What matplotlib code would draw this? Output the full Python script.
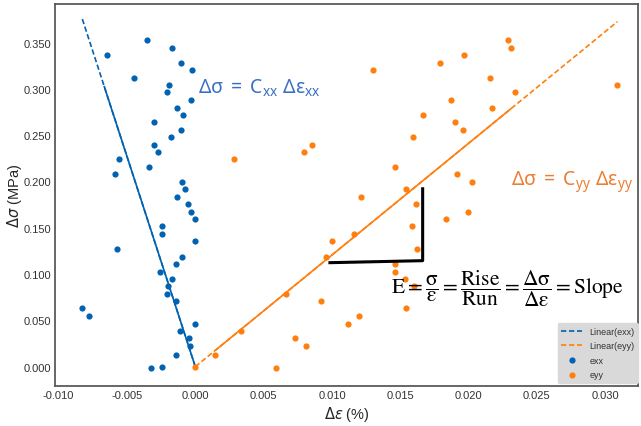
import numpy as np
import matplotlib.pyplot as plt

plt.rcParams['font.family'] = ['Liberation Sans', 'DejaVu Sans']
plt.rcParams['axes.unicode_minus'] = False
plt.rcParams['mathtext.fontset'] = 'dejavusans'
plt.rcParams['mathtext.rm'] = 'Noto Sans'
plt.rcParams['mathtext.it'] = 'Noto Sans:italic'

# stress increments shared by both strain directions (MPa)
stress = [0.3525, 0.3446, 0.3363, 0.3281, 0.3205, 0.3122, 0.3046, 0.2963, 0.2881,
          0.2798, 0.2719, 0.2639, 0.2560, 0.2481, 0.2398, 0.2315, 0.2239, 0.2160,
          0.2077, 0.1995, 0.1914, 0.1836, 0.1755, 0.1674, 0.1599, 0.1516, 0.1435,
          0.1354, 0.1273, 0.1188, 0.1107, 0.1028, 0.0948, 0.0867, 0.0786, 0.0710,
          0.0629, 0.0548, 0.0465, 0.0386, 0.0310, 0.0227, 0.0127, 0.0000, -0.0017]

exx = [-0.00351, -0.00168, -0.00649, -0.00105, -0.00026, -0.00449, -0.00190, -0.00209,
       -0.00034, -0.00132, -0.00092, -0.00300, -0.00102, -0.00176, -0.00300, -0.00271,
       -0.00556, -0.00341, -0.00590, -0.00100, -0.00075, -0.00134, -0.00056, -0.00034,
       0.00000, -0.00244, -0.00244, 0.00000, -0.00571, -0.00097, -0.00139, -0.00256,
       -0.00168, -0.00200, -0.00209, -0.00139, -0.00827, -0.00776, 0.00000, -0.00110,
       -0.00048, -0.00041, -0.00139, -0.00242, -0.00322]

eyy = [0.02291, 0.02313, 0.01965, 0.01791, 0.01301, 0.02160, 0.03083, 0.02338,
       0.01872, 0.02172, 0.01665, 0.01901, 0.01962, 0.01592, 0.00854, 0.00794,
       0.00281, 0.01464, 0.01916, 0.02023, 0.01540, 0.01211, 0.01616, 0.01998,
       0.01835, 0.01586, 0.01164, 0.00999, 0.01625, 0.00957, 0.01462, 0.01462,
       0.01533, 0.01603, 0.00662, 0.00920, 0.01540, 0.01196, 0.01118, 0.00337,
       0.00732, 0.00810, 0.00146, 0.00000, 0.00593]

# linear fits through the origin: slope, full (dashed) extent, solid extent
slope_xx = -45.4
fit_xx_full = [-0.00827, 0.0]
fit_xx_solid = [-0.00666, 0.0]
slope_yy = 12.06
fit_yy_full = [0.0, 0.0309]
fit_yy_solid = [0.0015, 0.0231]

# rise / run triangle under the eyy fit
tri_x = [0.00974, 0.01664, 0.01664]
tri_y = [0.1123, 0.1145, 0.1938]

blue = '#0062B1'
orange = '#FF7F0E'

fig = plt.figure(figsize=(6.41, 4.27), dpi=100)
ax = fig.add_axes([0.0858, 0.0944, 0.9095, 0.8946])

dash = (0, (3.2, 1.6))
x = np.array(fit_xx_full)
ax.plot(x, slope_xx * x, color=blue, lw=1.2, ls=dash, label='Linear(exx)')
x = np.array(fit_yy_full)
ax.plot(x, slope_yy * x, color=orange, lw=1.2, ls=dash, label='Linear(eyy)')
x = np.array(fit_xx_solid)
ax.plot(x, slope_xx * x, color=blue, lw=1.2)
x = np.array(fit_yy_solid)
ax.plot(x, slope_yy * x, color=orange, lw=1.2)

ax.scatter(exx, stress, s=20, color=blue, linewidths=0, label='exx', zorder=3)
ax.scatter(eyy, stress, s=20, color=orange, linewidths=0, label='eyy', zorder=3)

ax.plot(tri_x, tri_y, color='black', lw=2.2, solid_capstyle='butt', zorder=4)

ax.text(0.0002, 0.302, r'$\mathrm{\Delta\sigma\;=\;C_{xx}\ \Delta\epsilon_{xx}}$',
        color='#3A70C4', fontsize=14, va='center', ha='left', math_fontfamily='custom')
ax.text(0.0231, 0.200, r'$\mathrm{\Delta\sigma\;=\;C_{yy}\ \Delta\epsilon_{yy}}$',
        color='#ED7D31', fontsize=14, va='center', ha='left', math_fontfamily='custom')
ax.text(0.0143, 0.085,
        r'$\mathrm{E} = \dfrac{\mathrm{\sigma}}{\mathrm{\epsilon}} = '
        r'\dfrac{\mathrm{Rise}}{\mathrm{Run}} = '
        r'\dfrac{\mathrm{\Delta\sigma}}{\mathrm{\Delta\epsilon}} = \mathrm{Slope}$',
        color='black', fontsize=15.5, va='center', ha='left', math_fontfamily='stix')

ax.set_xlim(-0.01027, 0.0324)
ax.set_ylim(-0.0205, 0.392)
ax.set_xticks(np.arange(-0.010, 0.0301, 0.005))
ax.set_yticks(np.arange(0.0, 0.351, 0.05))
ax.xaxis.set_major_formatter(plt.FormatStrFormatter('%.3f'))
ax.yaxis.set_major_formatter(plt.FormatStrFormatter('%.3f'))
ax.tick_params(length=0, labelsize=8, labelcolor='#333333', pad=3)
for sp in ax.spines.values():
    sp.set_color('#5a5a5a')
    sp.set_linewidth(1.3)

ax.set_xlabel(r'$\Delta\varepsilon$ (%)', fontsize=10.5, color='#262626', labelpad=3)
ax.set_ylabel(r'$\Delta\sigma$ (MPa)', fontsize=10.5, color='#262626')
ax.yaxis.set_label_coords(-0.053, 0.5)

leg = ax.legend(loc='lower right', bbox_to_anchor=(1.0, 0.008), borderaxespad=0,
                fontsize=6.5, frameon=True, fancybox=True, facecolor='#d9d9d9',
                edgecolor='#d9d9d9', framealpha=1, labelspacing=0.6, handlelength=2.3)
for t in leg.get_texts():
    t.set_color('#333333')

fig.savefig('out.png', dpi=100)
